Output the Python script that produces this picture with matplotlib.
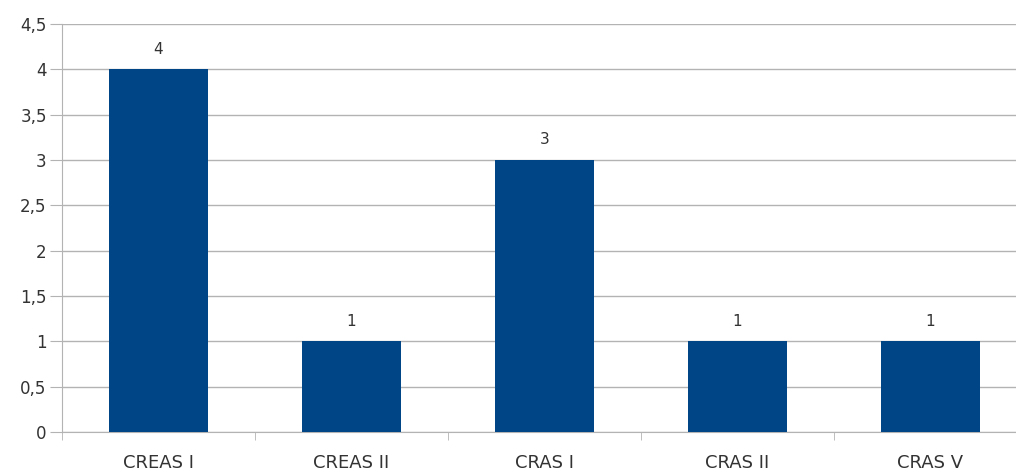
import matplotlib
matplotlib.use('Agg')
import matplotlib.pyplot as plt
import numpy as np

categorias = ['CREAS I', 'CREAS II', 'CRAS I', 'CRAS II', 'CRAS V']
valores = [4, 1, 3, 1, 1]
yticks = [0, 0.5, 1, 1.5, 2, 2.5, 3, 3.5, 4, 4.5]

plt.rcParams['font.family'] = 'DejaVu Sans'

fig = plt.figure(figsize=(10.16, 4.72), dpi=100)
ax = fig.add_axes([62/1016, 40/472, 965/1016, 408/472])

x = np.arange(len(categorias))
ax.bar(x, valores, width=0.51, color='#004586', zorder=3)

for xi, v in zip(x, valores):
    ax.annotate(str(v), (xi, v), xytext=(0, 9), textcoords='offset points',
                ha='center', va='bottom', fontsize=11, color='#333333')

ax.set_xlim(-0.5, len(categorias) - 0.5)
ax.set_ylim(0, 4.5)
ax.set_yticks(yticks)
ax.set_yticklabels([f'{t:g}'.replace('.', ',') for t in yticks], fontsize=12, color='#333333')
ax.yaxis.grid(True, color='#b3b3b3', linewidth=1, zorder=0)

ax.set_xticks(x)
ax.set_xticklabels(categorias, fontsize=13, color='#333333')
ax.set_xticks(np.arange(len(categorias) + 1) - 0.5, minor=True)
ax.tick_params(axis='x', which='major', length=0, pad=16)
ax.tick_params(axis='x', which='minor', length=6, color='#b3b3b3', direction='out')
ax.tick_params(axis='y', length=9, color='#b3b3b3', pad=2)

for s in ['top', 'right']:
    ax.spines[s].set_visible(False)
ax.spines['left'].set_color('#b3b3b3')
ax.spines['bottom'].set_color('#b3b3b3')

fig.savefig('out.png', dpi=100)
